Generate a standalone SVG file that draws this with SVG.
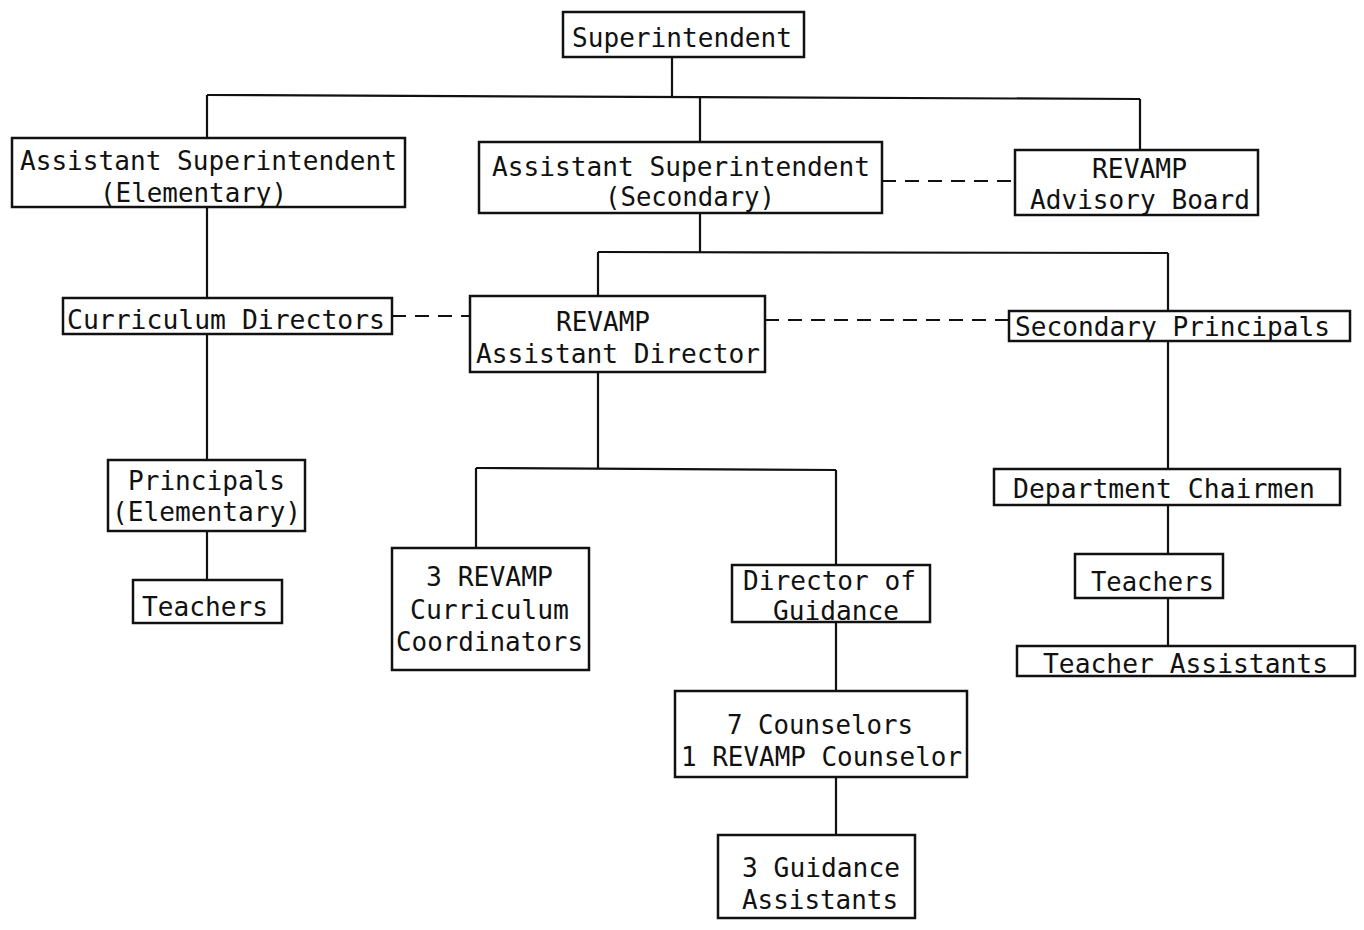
<svg xmlns="http://www.w3.org/2000/svg" width="1364" height="930" viewBox="0 0 1364 930">
<style>
rect.b{fill:#fff;stroke:#111;stroke-width:2.5}
.c line{stroke:#111;stroke-width:2.2;fill:none}
.c line.d{stroke-dasharray:14 9}
text{font-family:"DejaVu Sans Mono","Liberation Mono",monospace;font-size:27px;fill:#111}
</style>
<rect width="1364" height="930" fill="#fff"/>
<g class="c" id="connectors">
<line x1="672" y1="57" x2="672" y2="97"/>
<line x1="207" y1="95" x2="1140" y2="99"/>
<line x1="207" y1="95" x2="207" y2="138"/>
<line x1="700" y1="97" x2="700" y2="142"/>
<line x1="1140" y1="99" x2="1140" y2="150"/>
<line class="d" x1="882" y1="181" x2="1015" y2="181"/>
<line x1="207" y1="207" x2="207" y2="298"/>
<line x1="207" y1="334" x2="207" y2="460"/>
<line x1="207" y1="531" x2="207" y2="580"/>
<line class="d" x1="392" y1="316" x2="470" y2="316"/>
<line x1="700" y1="213" x2="700" y2="252"/>
<line x1="598" y1="252" x2="1168" y2="253"/>
<line x1="598" y1="252" x2="598" y2="296"/>
<line x1="1168" y1="253" x2="1168" y2="311"/>
<line class="d" x1="765" y1="320" x2="1009" y2="320"/>
<line x1="1168" y1="341" x2="1168" y2="469"/>
<line x1="1168" y1="505" x2="1168" y2="554"/>
<line x1="1168" y1="598" x2="1168" y2="646"/>
<line x1="598" y1="372" x2="598" y2="468"/>
<line x1="476" y1="468" x2="836" y2="470"/>
<line x1="476" y1="468" x2="476" y2="548"/>
<line x1="836" y1="470" x2="836" y2="565"/>
<line x1="836" y1="622" x2="836" y2="691"/>
<line x1="836" y1="777" x2="836" y2="835"/>
</g>
<g id="superintendent"><rect class="b" x="563" y="12" width="241" height="45"/><text x="572" y="47" textLength="220" lengthAdjust="spacingAndGlyphs">Superintendent</text></g>
<g id="asst-elem"><rect class="b" x="12" y="138" width="393" height="69"/><text x="20" y="170" textLength="377" lengthAdjust="spacingAndGlyphs">Assistant Superintendent</text><text x="100" y="202" textLength="187" lengthAdjust="spacingAndGlyphs">(Elementary)</text></g>
<g id="asst-sec"><rect class="b" x="479" y="142" width="403" height="71"/><text x="492" y="176" textLength="378" lengthAdjust="spacingAndGlyphs">Assistant Superintendent</text><text x="605" y="206" textLength="170" lengthAdjust="spacingAndGlyphs">(Secondary)</text></g>
<g id="advisory"><rect class="b" x="1015" y="150" width="243" height="65"/><text x="1092" y="178" textLength="95" lengthAdjust="spacingAndGlyphs">REVAMP</text><text x="1030" y="209" textLength="220" lengthAdjust="spacingAndGlyphs">Advisory Board</text></g>
<g id="curr-dir"><rect class="b" x="63" y="298" width="329" height="36"/><text x="67" y="329" textLength="318" lengthAdjust="spacingAndGlyphs">Curriculum Directors</text></g>
<g id="revamp-asst-dir"><rect class="b" x="470" y="296" width="295" height="76"/><text x="556" y="331" textLength="94" lengthAdjust="spacingAndGlyphs">REVAMP</text><text x="476" y="363" textLength="284" lengthAdjust="spacingAndGlyphs">Assistant Director</text></g>
<g id="sec-principals"><rect class="b" x="1009" y="311" width="341" height="30"/><text x="1015" y="336" textLength="315" lengthAdjust="spacingAndGlyphs">Secondary Principals</text></g>
<g id="principals-elem"><rect class="b" x="108" y="460" width="197" height="71"/><text x="128" y="490" textLength="157" lengthAdjust="spacingAndGlyphs">Principals</text><text x="112" y="521" textLength="189" lengthAdjust="spacingAndGlyphs">(Elementary)</text></g>
<g id="teachers-elem"><rect class="b" x="133" y="580" width="149" height="43"/><text x="142" y="616" textLength="126" lengthAdjust="spacingAndGlyphs">Teachers</text></g>
<g id="dept-chairmen"><rect class="b" x="994" y="469" width="346" height="36"/><text x="1013" y="498" textLength="302" lengthAdjust="spacingAndGlyphs">Department Chairmen</text></g>
<g id="teachers-sec"><rect class="b" x="1075" y="554" width="148" height="44"/><text x="1091" y="591" textLength="123" lengthAdjust="spacingAndGlyphs">Teachers</text></g>
<g id="teacher-assistants"><rect class="b" x="1017" y="646" width="338" height="30"/><text x="1043" y="673" textLength="285" lengthAdjust="spacingAndGlyphs">Teacher Assistants</text></g>
<g id="curriculum-coord"><rect class="b" x="392" y="548" width="197" height="122"/><text x="426" y="586" textLength="127" lengthAdjust="spacingAndGlyphs">3 REVAMP</text><text x="410" y="619" textLength="159" lengthAdjust="spacingAndGlyphs">Curriculum</text><text x="396" y="651" textLength="187" lengthAdjust="spacingAndGlyphs">Coordinators</text></g>
<g id="director-guidance"><rect class="b" x="732" y="565" width="198" height="57"/><text x="743" y="590" textLength="173" lengthAdjust="spacingAndGlyphs">Director of</text><text x="773" y="620" textLength="126" lengthAdjust="spacingAndGlyphs">Guidance</text></g>
<g id="counselors"><rect class="b" x="675" y="691" width="292" height="86"/><text x="727" y="734" textLength="186" lengthAdjust="spacingAndGlyphs">7 Counselors</text><text x="681" y="766" textLength="281" lengthAdjust="spacingAndGlyphs">1 REVAMP Counselor</text></g>
<g id="guidance-assistants"><rect class="b" x="718" y="835" width="197" height="83"/><text x="742" y="877" textLength="158" lengthAdjust="spacingAndGlyphs">3 Guidance</text><text x="742" y="909" textLength="156" lengthAdjust="spacingAndGlyphs">Assistants</text></g>
</svg>
